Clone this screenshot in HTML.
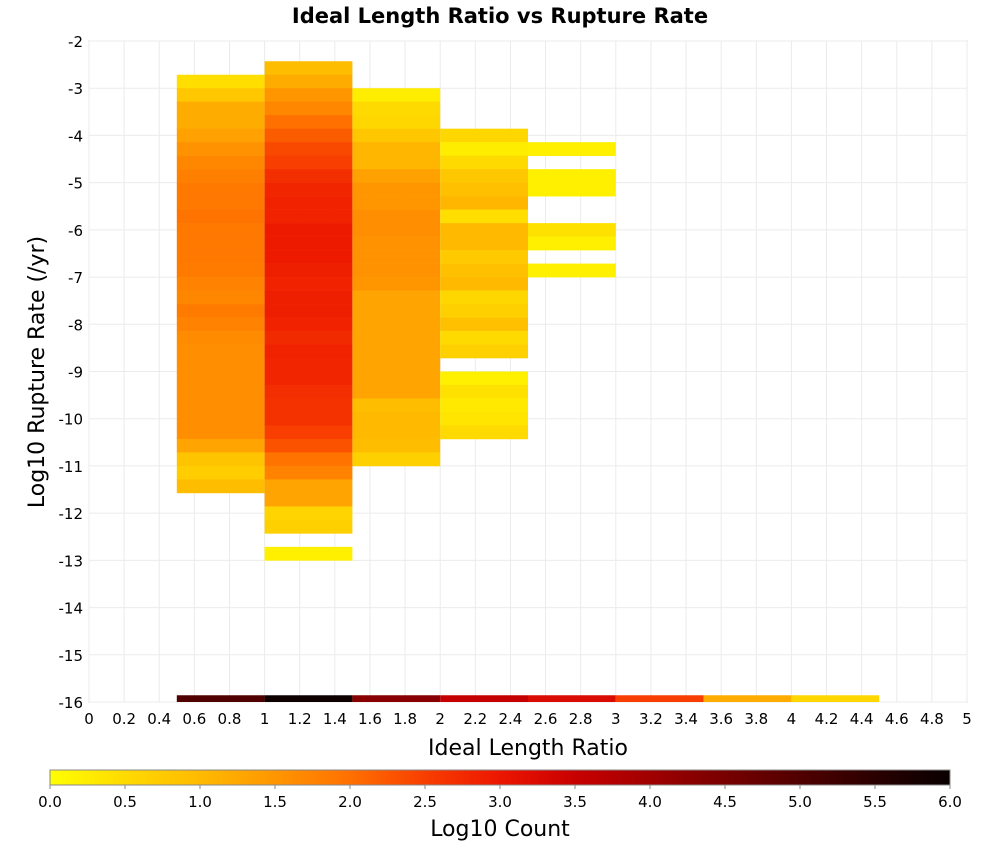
<!DOCTYPE html>
<html><head><meta charset="utf-8"><style>
body{margin:0;background:#fff;font-family:"DejaVu Sans","Liberation Sans",sans-serif;}
svg text{font-family:"DejaVu Sans","Liberation Sans",sans-serif;}
</style></head><body>
<svg id="chart" width="1000" height="850" viewBox="0 0 1000 850">
<defs>
<clipPath id="plotclip"><rect x="89" y="41" width="878" height="661"/></clipPath>
<linearGradient id="cbgrad" x1="0" x2="1" y1="0" y2="0">
<stop offset="0" stop-color="rgb(255,255,0)"/>
<stop offset="0.0833" stop-color="rgb(255,218,0)"/>
<stop offset="0.1667" stop-color="rgb(255,186,0)"/>
<stop offset="0.25" stop-color="rgb(255,150,0)"/>
<stop offset="0.3333" stop-color="rgb(255,112,0)"/>
<stop offset="0.4167" stop-color="rgb(248,62,0)"/>
<stop offset="0.5" stop-color="rgb(236,22,0)"/>
<stop offset="0.5833" stop-color="rgb(200,0,0)"/>
<stop offset="0.6667" stop-color="rgb(160,0,0)"/>
<stop offset="0.75" stop-color="rgb(120,0,0)"/>
<stop offset="0.8333" stop-color="rgb(80,0,0)"/>
<stop offset="0.9167" stop-color="rgb(42,0,0)"/>
<stop offset="1" stop-color="rgb(8,0,0)"/>
</linearGradient>
</defs>
<text x="500" y="23" text-anchor="middle" font-size="21" font-weight="bold">Ideal Length Ratio vs Rupture Rate</text>
<rect x="89" y="41" width="878" height="661" fill="#fff" stroke="#aaa"/>
<g id="grid"></g>
<g id="cells" clip-path="url(#plotclip)"></g>
<g id="axes"></g>
<text x="528" y="755" text-anchor="middle" font-size="22">Ideal Length Ratio</text>
<text transform="translate(44,372) rotate(-90)" text-anchor="middle" font-size="22">Log10 Rupture Rate (/yr)</text>
<rect x="50" y="770" width="900" height="15" fill="url(#cbgrad)" stroke="#888"/>
<g id="cbticks"></g>
<text x="500" y="836" text-anchor="middle" font-size="22">Log10 Count</text>
</svg>
<script>
// Data: columns by x-bin start, row index (y = -13 + row*binH), log10 count values
const binH = 2/7;
const yStart = -13;
const col0Start = [0.5, 1.0, 1.5, 2.0, 2.5];
const col0Rows = [35,34,33,32,31,30,29,28,27,26,25,24,23,22,21,20,19,18,17,16,15,14,13,12,11,10,9,8,7,6,5];
const col0Vals = [0.45,0.8,1.2,1.2,1.35,1.55,1.7,1.8,1.9,1.9,1.95,1.9,1.9,1.9,1.85,1.75,1.7,1.85,1.75,1.65,1.6,1.6,1.6,1.6,1.6,1.6,1.6,1.3,0.85,0.7,0.95];
const col1Rows = [36,35,34,33,32,31,30,29,28,27,26,25,24,23,22,21,20,19,18,17,16,15,14,13,12,11,10,9,8,7,6,5,4,3,2,0];
const col1Vals = [0.95,1.2,1.5,1.7,2.0,2.2,2.4,2.5,2.7,2.8,2.85,2.85,2.95,2.95,2.95,2.9,2.85,2.9,2.9,2.85,2.75,2.85,2.8,2.8,2.7,2.65,2.65,2.5,2.3,1.95,1.75,1.3,1.3,0.6,0.65,0.2];
const col2Rows = [34,33,32,31,30,29,28,27,26,25,24,23,22,21,20,19,18,17,16,15,14,13,12,11,10,9,8,7];
const col2Vals = [0.25,0.5,0.55,0.8,1.05,1.05,1.35,1.5,1.5,1.6,1.6,1.55,1.55,1.55,1.5,1.3,1.3,1.3,1.3,1.3,1.3,1.3,1.3,0.95,1.0,1.0,0.95,0.65];
const col3Rows = [31,30,29,28,27,26,25,24,23,22,21,20,19,18,17,16,15,13,12,11,10,9];
const col3Vals = [0.55,0.25,0.5,0.8,0.9,1.05,0.45,1.0,1.0,0.75,0.9,1.0,0.55,0.65,0.9,0.5,0.65,0.2,0.4,0.3,0.35,0.5];
const col4Rows = [30,28,27,24,23,21];
const col4Vals = [0.2,0.2,0.2,0.4,0.2,0.2];
// bottom strip at y = -16
const stripX = [0.5,1.0,1.5,2.0,2.5,3.0,3.5,4.0];
const stripVals = [5.0,5.9,4.3,3.55,3.25,2.5,1.2,0.55];
const xTicks = [0,0.2,0.4,0.6,0.8,1,1.2,1.4,1.6,1.8,2,2.2,2.4,2.6,2.8,3,3.2,3.4,3.6,3.8,4,4.2,4.4,4.6,4.8,5];
const yTicks = [-2,-3,-4,-5,-6,-7,-8,-9,-10,-11,-12,-13,-14,-15,-16];
const cbTicks = ["0.0","0.5","1.0","1.5","2.0","2.5","3.0","3.5","4.0","4.5","5.0","5.5","6.0"];

const NS = "http://www.w3.org/2000/svg";
const X = v => 89 + (v/5)*878;
const Y = v => 41 + (-2 - v)/14*661;
const stops = [[255,255,0],[255,218,0],[255,186,0],[255,150,0],[255,112,0],[248,62,0],[236,22,0],[200,0,0],[160,0,0],[120,0,0],[80,0,0],[42,0,0],[8,0,0]];
function color(v){
  let t = Math.max(0, Math.min(6, v))/0.5;
  let i = Math.min(11, Math.floor(t)), f = t - i;
  const a = stops[i], b = stops[i+1];
  return `rgb(${Math.round(a[0]+(b[0]-a[0])*f)},${Math.round(a[1]+(b[1]-a[1])*f)},${Math.round(a[2]+(b[2]-a[2])*f)})`;
}
function mk(tag, attrs, parent){
  const e = document.createElementNS(NS, tag);
  for (const k in attrs) e.setAttribute(k, attrs[k]);
  parent.appendChild(e); return e;
}
const grid = document.getElementById('grid');
xTicks.forEach(t => {
  const l = mk('line', {x1:X(t), x2:X(t), y1:41, y2:702, stroke:'#ebebeb'}, grid);
  
  
});
yTicks.forEach(t => {
  const l = mk('line', {x1:89, x2:967, y1:Y(t), y2:Y(t), stroke:'#ebebeb'}, grid);
  
  
});
const cells = document.getElementById('cells');
const cols = [[col0Rows,col0Vals],[col1Rows,col1Vals],[col2Rows,col2Vals],[col3Rows,col3Vals],[col4Rows,col4Vals]];
cols.forEach((c, ci) => {
  const x0 = col0Start[ci];
  c[0].forEach((r, i) => {
    const yb = yStart + r*binH, yt = yb + binH;
    const rc = mk('rect', {x:X(x0), y:Y(yt), width:X(x0+0.5)-X(x0), height:Y(yb)-Y(yt)+0.3, fill:color(c[1][i])}, cells);
    
    
  });
});
stripX.forEach((x0, i) => {
  const rc = mk('rect', {x:X(x0), y:Y(-16+binH/2), width:X(x0+0.5)-X(x0), height:Y(-16-binH/2)-Y(-16+binH/2), fill:color(stripVals[i])}, cells);
  
  
});
const axes = document.getElementById('axes');
xTicks.forEach(t => {
  const tx = mk('text', {x:X(t), y:724, 'text-anchor':'middle', 'font-size':'15'}, axes);
  tx.textContent = String(t);
  
  
});
yTicks.forEach(t => {
  const tx = mk('text', {x:83, y:Y(t)+6, 'text-anchor':'end', 'font-size':'15'}, axes);
  tx.textContent = String(t);
  
  
});
const cb = document.getElementById('cbticks');
cbTicks.forEach((t, i) => {
  const x = 50 + 900*(+t)/6;
  const l = mk('line', {x1:x, x2:x, y1:785, y2:789, stroke:'#888'}, cb);
  
  
  const tx = mk('text', {x:x, y:807, 'text-anchor':'middle', 'font-size':'15'}, cb);
  tx.textContent = t;
  
  
});
</script>
</body></html>
